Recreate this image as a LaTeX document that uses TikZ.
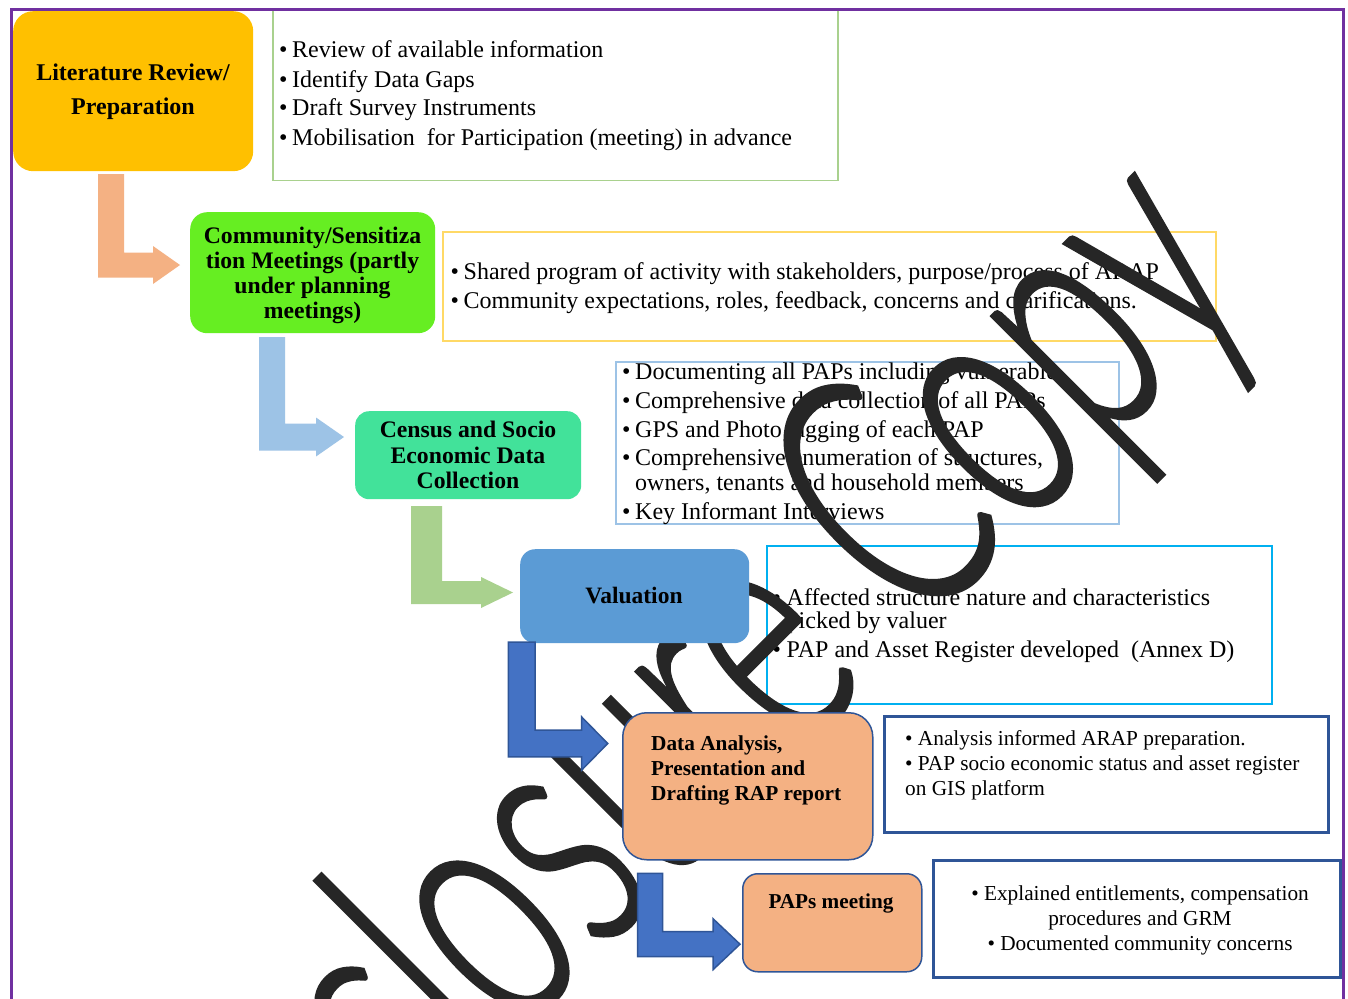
\documentclass[tikz,border=0pt]{standalone}
\usepackage{fontspec}
\setmainfont{Liberation Serif}
% humanist sans for the stamp, with a fallback
\IfFontExistsTF{Lato Light}
  {\newfontfamily\wmfont{Lato Light}[FakeBold=1.2]\def\wmsize{346}\def\wmxs{0.62}\def\wmox{196}\def\wmoy{1356}}
  {\newfontfamily\wmfont{Carlito}\def\wmsize{380}\def\wmxs{0.61}\def\wmox{200}\def\wmoy{1355}}
\usetikzlibrary{calc}

\definecolor{pborder}{HTML}{7030A0}
\definecolor{goldfill}{HTML}{FFC000}
\definecolor{limefill}{HTML}{66EE22}
\definecolor{mintfill}{HTML}{42E29A}
\definecolor{bluefill}{HTML}{5B9BD5}
\definecolor{peachfill}{HTML}{F4B183}
\definecolor{navyline}{HTML}{2F5597}
\definecolor{royalfill}{HTML}{4472C4}
\definecolor{skyfill}{HTML}{9DC3E6}
\definecolor{sagefill}{HTML}{A9D18E}
\definecolor{sunline}{HTML}{FFD966}
\definecolor{cyanline}{HTML}{00B0F0}
\definecolor{inkmark}{HTML}{262626}

% L-shaped block arrow: down from #2, then right to the tip #3
% #4 vertical bar width, #5 horizontal bar width, #6 head length, #7 half head height
\newcommand\bentarrow[7]{%
  \path[#1] ($(#2)+(-#4/2,0)$) -- ($(#2)+(#4/2,0)$)
    -- ($(#2 |- #3)+(#4/2,-#5/2)$) -- ($(#3)+(-#6,-#5/2)$)
    -- ($(#3)+(-#6,-#7)$) -- (#3) -- ($(#3)+(-#6,#7)$)
    -- ($(#3)+(-#6,#5/2)$) -- ($(#2 |- #3)+(-#4/2,#5/2)$) -- cycle;}

\newcommand\bul{\makebox[13pt][l]{\textbullet}}

\begin{document}
\begin{tikzpicture}[x=1pt,y=-1pt,
  stepbox/.style={rounded corners=#1, inner sep=0pt, anchor=north west},
  listframe/.style={draw=#1, line width=2pt, inner sep=0pt, anchor=north west},
  boldtxt/.style={anchor=base, inner sep=0pt, font=\bfseries\fontsize{24}{25}\selectfont},
  bodytxt/.style={anchor=base west, inner sep=0pt, font=\fontsize{24}{25}\selectfont},
  smalltxt/.style={inner sep=0pt, font=\fontsize{21.3}{25.3}\selectfont},
  peacharrow/.style={fill=peachfill},
  skyarrow/.style={fill=skyfill},
  sagearrow/.style={fill=sagefill},
  navyarrow/.style={fill=royalfill, draw=navyline, line width=1.5pt},
  navybox/.style={fill=peachfill, draw=navyline, line width=1.5pt}]

\useasboundingbox (0,0) rectangle (1348,998);
\clip (0,0) rectangle (1348,998);
\fill[white] (0,0) rectangle (1348,998);

% ---- activity lists ----
\node[listframe=sagefill, line width=1.5pt, minimum width=565pt, minimum height=170pt] (f1) at (272,9.5) {};
\node[bodytxt, font=\fontsize{24}{29}\selectfont] (t1) at (279,58) {\parbox[t]{555pt}{\raggedright
  \bul Review of available information\\
  \bul Identify Data Gaps\\
  \bul Draft Survey Instruments\\
  \bul Mobilisation\ \ for Participation (meeting) in advance}};

\node[listframe=sunline, minimum width=773pt, minimum height=109pt] (f2) at (442,231) {};
\node[bodytxt, font=\fontsize{24}{29}\selectfont] (t2) at (450.5,279.3) {\parbox[t]{760pt}{\raggedright
  \bul Shared program of activity with stakeholders, purpose/process of ARAP\\
  \bul Community expectations, roles, feedback, concerns and clarifications.}};

\node[listframe=skyfill, minimum width=503pt, minimum height=162pt] (f3) at (615,361) {};
\node[bodytxt] (t3) at (622,379.3) {\parbox[t]{495pt}{\raggedright
  \bul Documenting all PAPs including vulnerable.\\[4pt]
  \bul Comprehensive data collection of all PAPs\\[4pt]
  \bul GPS and Photo tagging of each PAP\\[3.5pt]
  \bul Comprehensive enumeration of structures,\\
  \hspace*{13pt}owners, tenants and household members\\[3.5pt]
  \bul Key Informant Interviews}};

\node[listframe=cyanline, minimum width=505pt, minimum height=158pt] (f4) at (766,545) {};
\node[bodytxt, font=\fontsize{24}{23.3}\selectfont] (t4) at (772.5,605) {\parbox[t]{495pt}{\raggedright
  \makebox[14pt][l]{\textbullet}Affected structure nature and characteristics\\
  \hspace*{14pt}picked by valuer\\[5.7pt]
  \makebox[14pt][l]{\textbullet}PAP and Asset Register developed\ \ (Annex D)}};

\node[listframe=navyline, line width=2.5pt, minimum width=444pt, minimum height=116pt] (f5) at (883,715) {};
\node[smalltxt, anchor=base west, font=\fontsize{21.3}{25}\selectfont] (t5) at (905,745) {\parbox[t]{420pt}{\raggedright
  \textbullet\ Analysis informed ARAP preparation.\\
  \textbullet\ PAP socio economic status and asset register\\
  on GIS platform}};

\node[listframe=navyline, line width=2.5pt, minimum width=407pt, minimum height=117pt] (f6) at (932,859) {};
\node[smalltxt, anchor=base] (t6) at (1140,900) {\parbox[t]{400pt}{\centering
  \textbullet\ Explained entitlements, compensation\\
  procedures and GRM\\
  \textbullet\ Documented community concerns}};

% ---- stamp across the page ----
\begin{scope}[shift={(\wmox,\wmoy)}]
  \node[anchor=base west, inner sep=0pt, rotate=45, xscale=\wmxs, text=inkmark,
        font=\wmfont\fontsize{\wmsize}{\wmsize}\selectfont] (wm) at (0,0) {Disclosure Copy};
\end{scope}

% ---- process steps ----
\node[stepbox=20pt, fill=goldfill, minimum width=240pt, minimum height=160pt] (b1) at (13,11) {};
\node[boldtxt, font=\bfseries\fontsize{24}{34}\selectfont] (b1t) at (133,81) {\parbox[t]{230pt}{\centering Literature Review/\\Preparation}};

\node[stepbox=17pt, fill=limefill, minimum width=245pt, minimum height=121pt] (b2) at (190,212) {};
\node[boldtxt, font=\bfseries\fontsize{23.7}{25}\selectfont] (b2t) at (312.5,243.3) {\parbox[t]{240pt}{\centering Community/Sensitiza\\tion Meetings (partly\\under planning\\meetings)}};

\node[stepbox=14pt, fill=mintfill, minimum width=226pt, minimum height=88pt] (b3) at (355,411) {};
\node[boldtxt, font=\bfseries\fontsize{23.7}{25.3}\selectfont] (b3t) at (468,437.7) {\parbox[t]{220pt}{\centering Census and Socio\\Economic Data\\Collection}};

\node[stepbox=15pt, fill=bluefill, minimum width=229pt, minimum height=94pt] (b4) at (520,549) {};
\node[boldtxt, font=\bfseries\fontsize{23.5}{25}\selectfont] (b4t) at (634,603.3) {Valuation};

\node[stepbox=24pt, navybox, minimum width=250pt, minimum height=147pt] (b5) at (622,712) {};
\node[boldtxt, anchor=base west, font=\bfseries\fontsize{21.3}{25}\selectfont] (b5t) at (651,750) {\parbox[t]{215pt}{\raggedright Data Analysis,\\Presentation and\\Drafting RAP report}};

\node[stepbox=15pt, navybox, minimum width=179pt, minimum height=98pt] (b6) at (742,873) {};
\node[boldtxt, font=\bfseries\fontsize{21.2}{25}\selectfont] (b6t) at (831,908.3) {PAPs meeting};

% ---- flow arrows ----
\coordinate (a1s) at (111,174);   \coordinate (a1e) at (180,265);
\coordinate (a2s) at (272,337);   \coordinate (a2e) at (344,437);
\coordinate (a3s) at (426.5,506); \coordinate (a3e) at (513,592.5);
\coordinate (a4s) at (521.7,642); \coordinate (a4e) at (607.7,743.5);
\coordinate (a5s) at (650.2,873.3); \coordinate (a5e) at (740,944.2);
\bentarrow{peacharrow}{a1s}{a1e}{26}{25}{27}{19}
\bentarrow{skyarrow}{a2s}{a2e}{26}{27}{28}{19.5}
\bentarrow{sagearrow}{a3s}{a3e}{31}{23}{32}{15.5}
\bentarrow{navyarrow}{a4s}{a4e}{26.7}{26.7}{26}{26.5}
\bentarrow{navyarrow}{a5s}{a5e}{25}{25}{27}{25.5}

% ---- page border ----
\draw[pborder, line width=3pt] (11.5,1005) -- (11.5,9.5) -- (1343,9.5) -- (1343,1005);
\end{tikzpicture}
\end{document}
